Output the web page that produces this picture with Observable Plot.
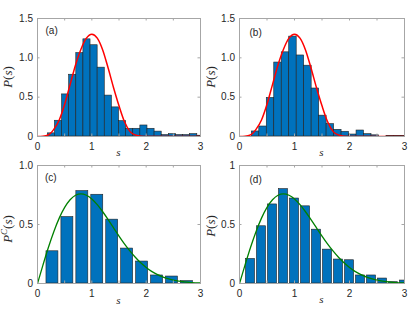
<!DOCTYPE html>
<html><head><meta charset="utf-8">
<script src="https://cdn.jsdelivr.net/npm/d3@7"></script>
<script src="https://cdn.jsdelivr.net/npm/@observablehq/plot@0.6"></script>
<style>
body{margin:0;background:#fff;}
#wrap{position:relative;width:415px;height:312px;overflow:hidden;background:#fff;}
#wrap > div{position:absolute;}
#wrap svg{display:block;overflow:visible;max-width:none;}
</style></head><body><div id="wrap"></div>
<script>
// ---------- data ----------
// (a) histogram: bin edges (s) and heights
const edgesA = [0.19,0.321,0.452,0.583,0.714,0.845,0.976,1.107,1.238,1.369,1.50,1.631,1.762,1.893,2.024,2.155,2.286,2.417,2.548,2.679,2.81,2.941,3.072];
const heightsA = [0.04,0.20,0.535,0.785,1.06,1.235,1.16,0.875,0.52,0.37,0.195,0.098,0.098,0.14,0.098,0.062,0.018,0.03,0.018,0.018,0.03,0.01];
// (b) histogram
const edgesB = [0.224,0.36,0.496,0.632,0.768,0.904,1.04,1.176,1.312,1.448,1.584,1.72,1.856,1.992,2.128,2.264,2.40,2.536,2.672,2.808,2.944,3.08];
const heightsB = [0.064,0.127,0.49,0.94,1.07,1.27,1.03,0.90,0.61,0.265,0.157,0.085,0.06,0.025,0.076,0.03,0.015,0,0.005,0.005,0.005];
// (c) bars: centers and heights
const centersC = [0.275,0.55,0.825,1.1,1.375,1.65,1.925,2.2,2.475,2.75];
const heightsC = [0.273,0.563,0.783,0.752,0.541,0.296,0.186,0.068,0.059,0.02];
const barWidthC = 0.22;
// (d) bars
const centersD = [0.2,0.4,0.6,0.8,1.0,1.2,1.4,1.6,1.8,2.0,2.2,2.4,2.6,2.8,3.0];
const heightsD = [0.208,0.485,0.67,0.80,0.72,0.654,0.456,0.287,0.203,0.197,0.068,0.068,0.042,0.011,0.025];
const barWidthD = 0.165;
// curves
const sGrid = [0,0.1,0.2,0.3,0.4,0.5,0.6,0.7,0.8,0.9,1.0,1.1,1.2,1.3,1.4,1.5,1.6,1.7,1.8,1.9,2.0,2.1,2.2,2.3,2.4,2.5,2.6,2.7,2.8,2.9,3.0];
const redCurve = [0,0.003,0.02,0.09,0.21,0.41,0.66,0.91,1.11,1.25,1.30,1.25,1.10,0.87,0.62,0.39,0.19,0.065,0.02,0.004,0,0,0,0,0,0,0,0,0,0,0];
const greenCurve = [0,0.156,0.305,0.439,0.554,0.645,0.710,0.748,0.760,0.748,0.717,0.668,0.608,0.542,0.472,0.402,0.336,0.276,0.222,0.175,0.136,0.103,0.077,0.057,0.041,0.029,0.020,0.014,0.009,0.006,0.004];
// ticks
const xTickMarks = [0,0.5,1,1.5,2,2.5,3];
const xTickLabels = [0,1,2,3];
const yTicksAB = [0,0.5,1,1.5];
const yLabelsAB = ["0","0.5","1.0","1.5"];
const yTicksC = [0,0.5,1];
const yLabelsC = ["0","0.5","1.0"];
const yTicksD = [0,0.5,1];
const yLabelsD = ["0","0.5","1"];
const tags = ["(a)","(b)","(c)","(d)"];

// ---------- build ----------
const histRows = (edges, h) => h.map((y, i) => ({x1: edges[i], x2: edges[i+1], y}));
const barRows = (c, h, w) => h.map((y, i) => ({x1: c[i] - w/2, x2: c[i] + w/2, y}));
const curveRows = (p) => sGrid.map((s, i) => ({s, p: p[i]}));

const AXIS = "#a6a6a6";
function panel(o) {
  const innerH = o.height - o.mT - o.mB, innerW = o.width - o.mL - o.mR;
  const tk = 2.5;
  const ymap = new Map(o.yTicks.map((t, i) => [t, o.yLabels[i]]));
  const svg = Plot.plot({
    width: o.width, height: o.height,
    marginLeft: o.mL, marginTop: o.mT, marginRight: o.mR, marginBottom: o.mB,
    x: {domain: [0, 3], label: null},
    y: {domain: [0, o.yMax], label: null},
    style: {fontFamily: "'Liberation Sans', Arial, sans-serif", fontSize: "10px", color: "#262626", background: "transparent"},
    marks: [
      Plot.rectY(o.bars, {x1: "x1", x2: "x2", y: "y", fill: "#0072bd", stroke: "#222", strokeWidth: 0.6, clip: true}),
      Plot.line(o.curve, {x: "s", y: "p", stroke: o.curveColor, strokeWidth: o.curveWidth, curve: "monotone-x", clip: true}),
      Plot.frame({stroke: AXIS, strokeWidth: 1}),
      Plot.tickX(xTickMarks, {x: d => d, insetTop: innerH - tk, stroke: AXIS}),
      Plot.tickX(xTickMarks, {x: d => d, insetBottom: innerH - tk, stroke: AXIS}),
      Plot.tickY(o.yTicks, {y: d => d, insetRight: innerW - tk, stroke: AXIS}),
      Plot.tickY(o.yTicks, {y: d => d, insetLeft: innerW - tk, stroke: AXIS}),
      Plot.axisX(xTickLabels, {tickSize: 0, tickPadding: 6, tickFormat: d => String(d), label: null}),
      Plot.axisY(o.yTicks, {tickSize: 0, tickPadding: 4.5, tickFormat: d => ymap.get(d), label: null}),
      Plot.text([o.tag], {frameAnchor: "top-left", dx: o.tagDx, dy: o.tagDy, lineAnchor: "top", textAnchor: "start", fontSize: 10, fill: "#262626"})
    ]
  });
  const s = d3.select(svg);
  // y label (LaTeX-like)
  const yl = s.append("text")
    .attr("transform", `translate(${o.ylx},${o.yly}) rotate(-90)`)
    .attr("text-anchor", "middle")
    .attr("font-family", "'Liberation Serif', 'DejaVu Serif', serif")
    .attr("font-size", 13).attr("fill", "#262626");
  yl.append("tspan").attr("font-style", "italic").text("P");
  if (o.sup) {
    yl.append("tspan").attr("font-style", "italic").attr("font-size", 9).attr("dy", -5).text(o.sup);
    yl.append("tspan").attr("dy", 5).text("(");
  } else {
    yl.append("tspan").text("(");
  }
  yl.append("tspan").attr("font-style", "italic").text("s");
  yl.append("tspan").text(")");
  // x label
  s.append("text")
    .attr("x", o.mL + innerW / 2).attr("y", o.xly)
    .attr("text-anchor", "middle")
    .attr("font-family", "'Liberation Serif', 'DejaVu Serif', serif")
    .attr("font-style", "italic").attr("font-size", 11).attr("fill", "#262626")
    .text("s");
  const div = document.createElement("div");
  div.style.left = o.left + "px"; div.style.top = o.top + "px";
  div.style.width = o.width + "px"; div.style.height = o.height + "px";
  div.appendChild(svg);
  document.getElementById("wrap").appendChild(div);
}

panel({left: 0, top: 0, width: 207, height: 160, mL: 37, mT: 18, mR: 7, mB: 24,
  yMax: 1.5, yTicks: yTicksAB, yLabels: yLabelsAB,
  bars: histRows(edgesA, heightsA), curve: curveRows(redCurve), curveColor: "#ff0000", curveWidth: 1.5,
  tag: tags[0], tagDx: 8, tagDy: 8, ylx: 12, yly: 77, xly: 156});
panel({left: 207, top: 0, width: 208, height: 160, mL: 32, mT: 18, mR: 11, mB: 24,
  yMax: 1.5, yTicks: yTicksAB, yLabels: yLabelsAB,
  bars: histRows(edgesB, heightsB), curve: curveRows(redCurve), curveColor: "#ff0000", curveWidth: 1.5,
  tag: tags[1], tagDx: 10, tagDy: 10, ylx: 8, yly: 77, xly: 156});
panel({left: 0, top: 156, width: 207, height: 156, mL: 37, mT: 9, mR: 7, mB: 29,
  yMax: 1, yTicks: yTicksC, yLabels: yLabelsC,
  bars: barRows(centersC, heightsC, barWidthC), curve: curveRows(greenCurve), curveColor: "#008000", curveWidth: 1.3,
  tag: tags[2], tagDx: 7.5, tagDy: 8, ylx: 12, yly: 73, xly: 148, sup: "C"});
panel({left: 207, top: 156, width: 208, height: 156, mL: 32, mT: 9, mR: 11, mB: 29,
  yMax: 1, yTicks: yTicksD, yLabels: yLabelsD,
  bars: barRows(centersD, heightsD, barWidthD), curve: curveRows(greenCurve), curveColor: "#008000", curveWidth: 1.3,
  tag: tags[3], tagDx: 10, tagDy: 10, ylx: 7.5, yly: 70, xly: 147});
</script>
</body></html>
